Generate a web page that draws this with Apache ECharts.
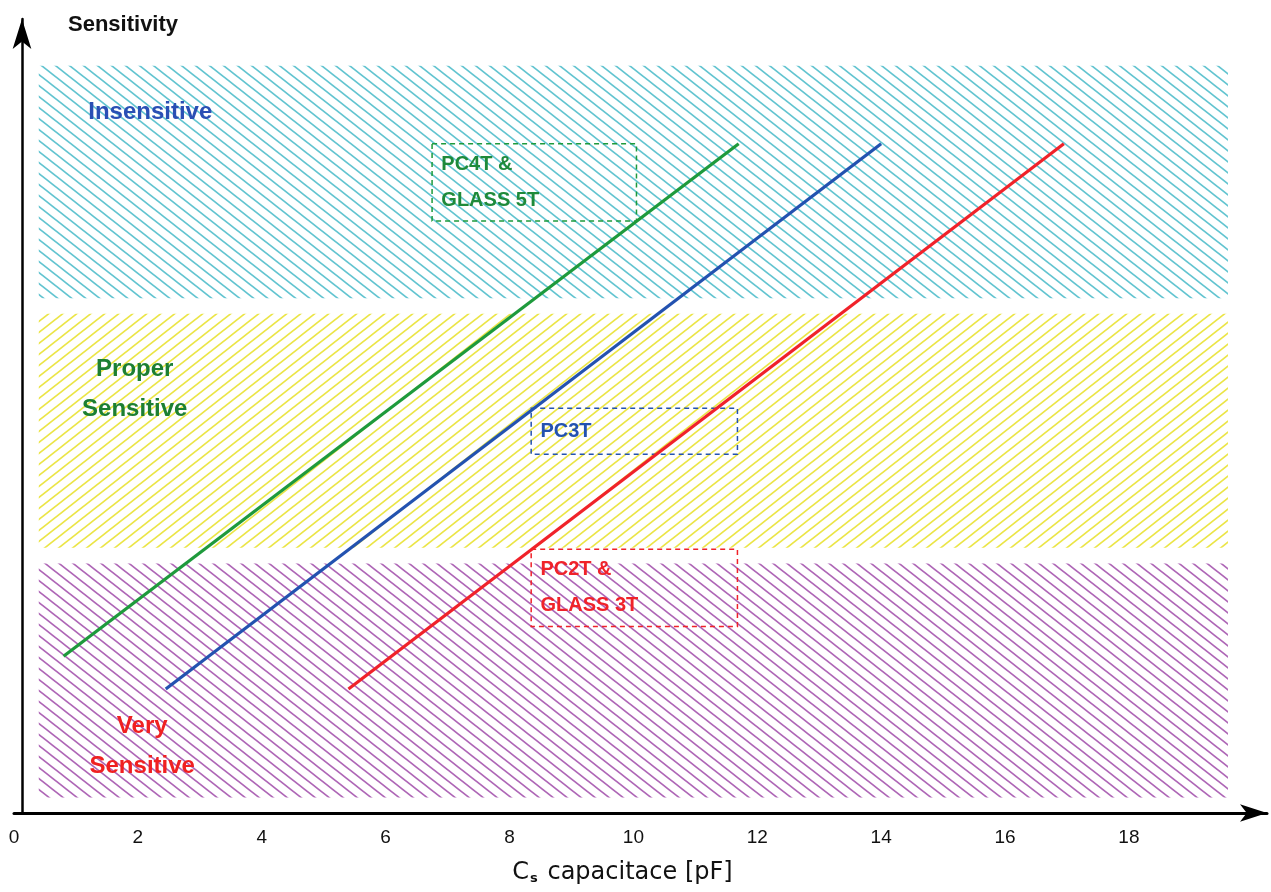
<!DOCTYPE html>
<html>
<head>
<meta charset="utf-8">
<script src="https://cdn.jsdelivr.net/npm/echarts@6/dist/echarts.min.js"></script>
<style>
html,body{margin:0;padding:0;background:#fff;}
#chart{width:1271px;height:892px;}
</style>
</head>
<body>
<div id="chart"></div>
<script>
// ---- data ----
const xTickValues = [0, 2, 4, 6, 8, 10, 12, 14, 16, 18];
const bandNames = ['Insensitive', 'Proper\nSensitive', 'Very\nSensitive'];
const bandXRange = [0.4, 19.6];
const bandYRanges = [[66, 95.8], [34, 64], [2, 32]];
const bandLabelAnchors = [[2.2, 89.8], [1.95, 54.3], [2.07, 8.5]];

const seriesNames = ['PC4T &\nGLASS 5T', 'PC3T', 'PC2T &\nGLASS 3T'];
const pc4tGlass5t = [[0.8, 20.1], [11.7, 85.8]];
const pc3t = [[2.45, 15.9], [14.0, 85.8]];
const pc2tGlass3t = [[5.4, 15.9], [16.95, 85.8]];
const boxXRanges = [[6.75, 10.05], [8.35, 11.68], [8.35, 11.68]];
const boxYRanges = [[75.9, 85.8], [46.0, 51.9], [23.9, 33.8]];

// ---- styles ----
const lineColors = ['#1e9a3c', '#2352b0', '#f0222a'];
const boxTextColors = ['#1e8a3a', '#2352b0', '#f0222a'];
const bandLabelColors = ['#2a4fb4', '#1c7f32', '#f02020'];
const hatchColors = ['#62c4d0', '#ebe546', '#ae66b6'];
const hatchDirs = ['\\', '/', '\\'];

function hatch(color, dir) {
  const W = 14, H = 11;
  const c = document.createElement('canvas');
  c.width = W; c.height = H;
  const g = c.getContext('2d');
  g.strokeStyle = color;
  g.lineWidth = 1.7;
  g.lineCap = 'butt';
  for (let n = -1; n <= 1; n++) {
    g.beginPath();
    if (dir === '\\') {
      g.moveTo(-W, n * H - H);
      g.lineTo(2 * W, n * H + 2 * H);
    } else {
      g.moveTo(-W, n * H + 2 * H);
      g.lineTo(2 * W, n * H - H);
    }
    g.stroke();
  }
  return { image: c, repeat: 'repeat' };
}

const chart = echarts.init(document.getElementById('chart'), null, { renderer: 'canvas' });

const lineData = [pc4tGlass5t, pc3t, pc2tGlass3t];

const series = [];
series.push({
  type: 'line',
  data: [],
  silent: true,
  z: 1,
  markArea: {
    silent: true,
    data: bandYRanges.map((r, i) => [
      { xAxis: bandXRange[0], yAxis: r[1], itemStyle: { color: hatch(hatchColors[i], hatchDirs[i]), borderWidth: 0, opacity: 1 } },
      { xAxis: bandXRange[1], yAxis: r[0] }
    ])
  }
});

lineData.forEach((d, i) => {
  series.push({
    type: 'line',
    name: seriesNames[i],
    data: d,
    symbol: 'none',
    silent: true,
    z: 3,
    lineStyle: { color: lineColors[i], width: 3.2 },
    markArea: {
      silent: true,
      z: 2,
      data: [[
        {
          xAxis: boxXRanges[i][0], yAxis: boxYRanges[i][1],
          itemStyle: { color: 'rgba(0,0,0,0)', borderColor: lineColors[i], borderWidth: 1.5, borderType: [5, 4] },
          label: {
            show: true, position: 'insideLeft', distance: 10,
            formatter: seriesNames[i],
            color: boxTextColors[i], fontFamily: 'Liberation Sans', fontWeight: 'bold',
            fontSize: 20, lineHeight: 36
          }
        },
        { xAxis: boxXRanges[i][1], yAxis: boxYRanges[i][0] }
      ]]
    }
  });
});

series.push({
  type: 'scatter',
  symbolSize: 0,
  silent: true,
  z: 4,
  itemStyle: { opacity: 1 },
  data: bandLabelAnchors.map((p, i) => ({
    value: p,
    name: bandNames[i],
    label: { color: bandLabelColors[i] }
  })),
  label: {
    show: true, position: 'inside',
    formatter: p => p.name,
    fontFamily: 'Liberation Sans', fontWeight: 'bold', fontSize: 24, lineHeight: 40,
    align: 'center', opacity: 1
  }
});

chart.setOption({
  animation: false,
  backgroundColor: '#fff',
  grid: { left: 14, right: 4, top: 19, bottom: 79, containLabel: false },
  xAxis: {
    type: 'value', min: 0, max: 20.23, interval: 2,
    axisLine: { show: true, onZero: false, symbol: ['none', 'arrow'], symbolSize: [13, 27], lineStyle: { color: '#000', width: 3 } },
    axisTick: { show: false },
    splitLine: { show: false },
    axisLabel: {
      showMaxLabel: false, color: '#111', fontFamily: 'Liberation Sans', fontSize: 19, margin: 15,
      formatter: v => (xTickValues.indexOf(v) >= 0 ? String(v) : '')
    },
    name: '{c|C}{s|s} capacitace [pF]',
    nameLocation: 'middle', nameGap: 47,
    nameTextStyle: {
      color: '#111', fontFamily: 'DejaVu Sans', fontSize: 24, padding: [0, 36, 0, 0],
      rich: {
        c: { fontFamily: 'DejaVu Sans', fontSize: 24, color: '#111' },
        s: { fontFamily: 'DejaVu Sans', fontSize: 13, fontWeight: 'bold', color: '#111', verticalAlign: 'bottom', padding: [12, 2, 0, 1] }
      }
    }
  },
  yAxis: {
    type: 'value', min: 0, max: 101.8,
    offset: -8,
    axisLine: { show: true, onZero: false, symbol: ['none', 'arrow'], symbolSize: [14, 30], lineStyle: { color: '#000', width: 2.5 } },
    axisTick: { show: false },
    splitLine: { show: false },
    axisLabel: { show: false },
    name: 'Sensitivity', nameLocation: 'end', nameGap: -17,
    nameTextStyle: { color: '#111', fontFamily: 'Liberation Sans', fontWeight: 'bold', fontSize: 22, align: 'left', padding: [0, 0, 0, 46] }
  },
  series: series
});
</script>
</body>
</html>
